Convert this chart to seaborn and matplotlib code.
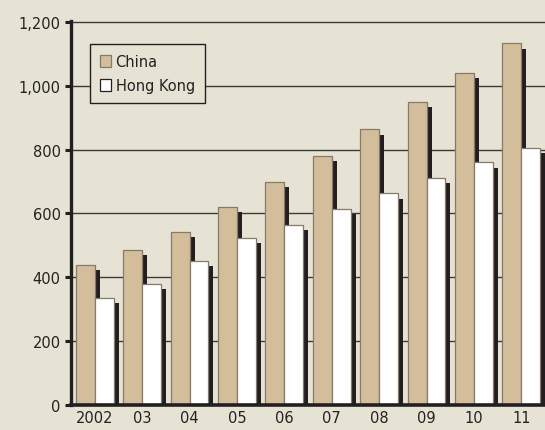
import matplotlib
matplotlib.use("Agg")
import matplotlib.pyplot as plt
import matplotlib.patheffects as pe
from matplotlib.patches import Patch
import seaborn as sns
import pandas as pd

years = ["2002", "03", "04", "05", "06", "07", "08", "09", "10", "11"]
china = [440, 486, 542, 621, 699, 780, 864, 950, 1041, 1133]
hong_kong = [335, 380, 451, 523, 565, 614, 663, 712, 761, 805]
series = ["China", "Hong Kong"]

bg = "#e6e3d4"
tan = "#d3bd9a"
ink = "#231f20"

df = pd.DataFrame({
    "year": years * 2,
    "value": china + hong_kong,
    "series": [series[0]] * len(years) + [series[1]] * len(years),
})

sns.set_theme(style="white")
plt.rcParams["font.family"] = ["Liberation Sans Narrow", "DejaVu Sans"]

fig = plt.figure(figsize=(5.45, 4.31), dpi=100, facecolor=bg)
ax = fig.add_axes([71 / 545, 1 - 406 / 431, 1 - 71 / 545, (406 - 22) / 431])
ax.set_facecolor(bg)

sns.barplot(data=df, x="year", y="value", hue="series", order=years,
            hue_order=series, palette=[tan, "white"], width=0.8,
            edgecolor="#857b6c", linewidth=0.9, saturation=1, ax=ax,
            legend=False)

# drop shadow behind every bar
for p in ax.patches:
    p.set_path_effects([
        pe.SimplePatchShadow(offset=(3.6, -3.9), shadow_rgbFace=ink, alpha=1.0),
        pe.Normal(),
    ])

ax.set_xlim(-0.5, 9.5)
ax.set_ylim(0, 1203)
ax.set_yticks(range(0, 1201, 200))
ax.set_yticklabels([f"{v:,}" for v in range(0, 1201, 200)])
ax.set_xlabel("")
ax.set_ylabel("")

ax.set_axisbelow(True)
ax.yaxis.grid(True, color="#3c3a36", linewidth=1.0)
ax.xaxis.grid(False)

for s in ["top", "right"]:
    ax.spines[s].set_visible(False)
ax.spines["left"].set_color(ink)
ax.spines["left"].set_linewidth(2.4)
ax.spines["bottom"].set_color(ink)
ax.spines["bottom"].set_linewidth(2.6)
ax.spines["left"].set_zorder(5)
ax.spines["bottom"].set_zorder(5)

ax.tick_params(axis="y", which="major", left=True, length=4.5, width=2.2,
               color=ink, labelsize=10.5, labelcolor="#222222", pad=3)
ax.tick_params(axis="x", which="major", bottom=False, length=0,
               labelsize=10.5, labelcolor="#222222", pad=3.5)

handles = [Patch(facecolor=tan, edgecolor="#857b6c", linewidth=0.9),
           Patch(facecolor="white", edgecolor=ink, linewidth=0.9)]
leg = ax.legend(handles, series, loc="upper left",
                bbox_to_anchor=((90 - 71) / 474, (406 - 45) / 384),
                frameon=True, fancybox=False, framealpha=1,
                facecolor=bg, edgecolor=ink, fontsize=10.5,
                handlelength=0.75, handleheight=0.9, handletextpad=0.3,
                labelspacing=0.6, borderpad=0.7, borderaxespad=0)
leg.get_frame().set_linewidth(1.0)
for t in leg.get_texts():
    t.set_color("#222222")

fig.savefig("out.png", dpi=100, facecolor=bg)
